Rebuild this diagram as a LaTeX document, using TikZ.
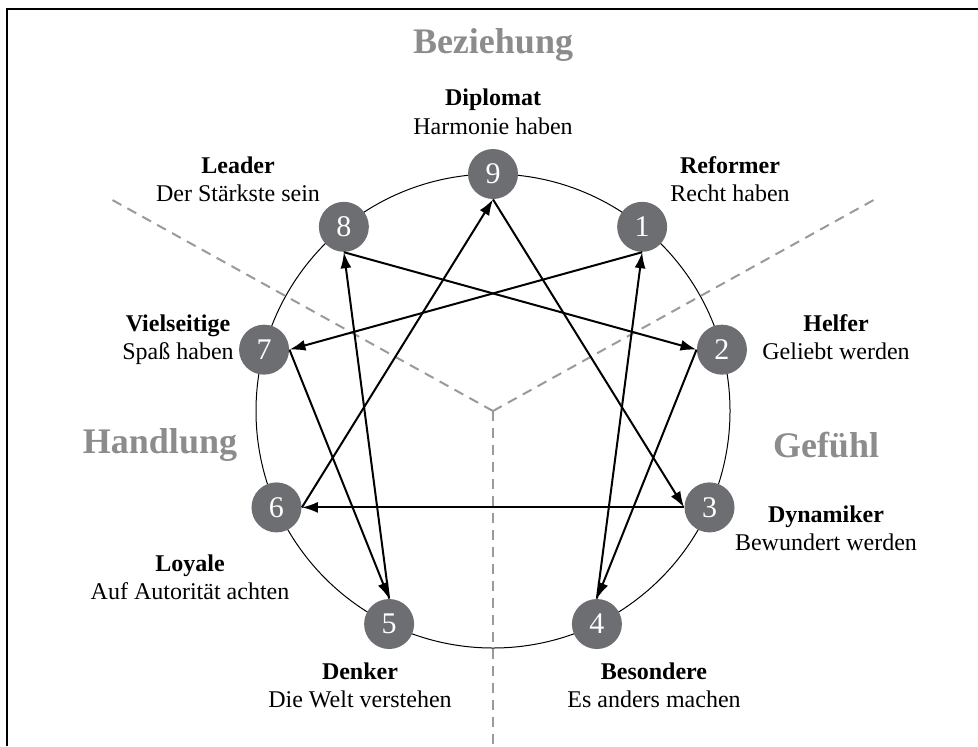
\documentclass[tikz,border=0pt]{standalone}
\usepackage{fontspec}
\setmainfont{Liberation Serif}
\usepackage{tikz}
\usetikzlibrary{arrows.meta,positioning,calc}
\usepackage{xcolor}
\definecolor{nodegray}{HTML}{6D6E71}
\definecolor{headgray}{HTML}{8C8C8C}
\definecolor{dashgray}{HTML}{9A9A9A}

\begin{document}
\begin{tikzpicture}[
    x=0.5pt, y=0.5pt,
    node distance=2pt,
    num/.style={circle, fill=nodegray, text=white, minimum size=25pt,
                inner sep=0pt, font=\fontsize{15pt}{15pt}\selectfont},
    title/.style={inner sep=0pt, text height=9pt, text depth=3pt,
                  font=\fontsize{12pt}{14pt}\selectfont\bfseries},
    sub/.style={inner sep=0pt, text height=9pt, text depth=3pt,
                font=\fontsize{12pt}{14pt}\selectfont},
    head/.style={inner sep=0pt, text=headgray,
                 font=\fontsize{18pt}{20pt}\selectfont\bfseries},
    sector/.style={dashgray, line width=1pt, dash pattern=on 5pt off 3.5pt},
    arr/.style={-{Latex[length=8pt,width=5.5pt]}, line width=1pt},
    >=Latex
  ]
  \useasboundingbox (0,0) rectangle (978,746);

  %% Frame
  \draw[line width=1pt] (7,0) -- (7,737) -- (978,737);

  %% Centre and sector lines
  \coordinate (c) at (493,335);
  \coordinate (dl) at ($(c)+(151:440)$);
  \coordinate (dr) at ($(c)+(29:440)$);
  \coordinate (db) at (493,0);
  \draw[sector] (c) -- (dl);
  \draw[sector] (c) -- (dr);
  \draw[sector] (c) -- (db);

  %% Circle
  \draw[line width=0.5pt] (c) circle[radius=237];

  %% Points
  \node[num] (n9) at ($(c)+(90:237)$) {9};
  \node[num] (n1) at ($(c)+(51:237)$) {1};
  \node[num] (n2) at ($(c)+(15:237)$) {2};
  \node[num] (n3) at ($(c)+(-24:237)$) {3};
  \node[num] (n4) at ($(c)+(-64:237)$) {4};
  \node[num] (n5) at ($(c)+(-116:237)$) {5};
  \node[num] (n6) at ($(c)+(-156:237)$) {6};
  \node[num] (n7) at ($(c)+(165:237)$) {7};
  \node[num] (n8) at ($(c)+(129:237)$) {8};

  %% Hexad
  \draw[arr] (n1.south) -- (n7.east);
  \draw[arr] (n7.east) -- (n5.north);
  \draw[arr] (n5.north) -- (n8.south);
  \draw[arr] (n8.south) -- (n2.west);
  \draw[arr] (n2.west) -- (n4.north);
  \draw[arr] (n4.north) -- (n1.south);

  %% Triangle
  \draw[arr] (n9.south) -- (n3.west);
  \draw[arr] (n3.west) -- (n6.east);
  \draw[arr] (n6.east) -- (n9.south);

  %% Centre labels
  \node[head] (hbez) at (493,701) {Beziehung};
  \node[head] (hhan) at (160,301) {Handlung};
  \node[head] (hgef) at (826,301) {Gefühl};

  %% Type labels
  \node[title] (t9) at (493,646) {Diplomat};
  \node[sub, below=of t9] (s9) {Harmonie haben};
  \node[title] (t1) at (730,579) {Reformer};
  \node[sub, below=of t1] (s1) {Recht haben};
  \node[title] (t2) at (836,421) {Helfer};
  \node[sub, below=of t2] (s2) {Geliebt werden};
  \node[title] (t3) at (826,230) {Dynamiker};
  \node[sub, below=of t3] (s3) {Bewundert werden};
  \node[title] (t4) at (654,73) {Besondere};
  \node[sub, below=of t4] (s4) {Es anders machen};
  \node[title] (t5) at (360,73) {Denker};
  \node[sub, below=of t5] (s5) {Die Welt verstehen};
  \node[title] (t6) at (190,181) {Loyale};
  \node[sub, below=of t6] (s6) {Auf Autorität achten};
  \node[title] (t7) at (178,421) {Vielseitige};
  \node[sub, below=of t7] (s7) {Spaß haben};
  \node[title] (t8) at (238,579) {Leader};
  \node[sub, below=of t8] (s8) {Der Stärkste sein};

\end{tikzpicture}
\end{document}
